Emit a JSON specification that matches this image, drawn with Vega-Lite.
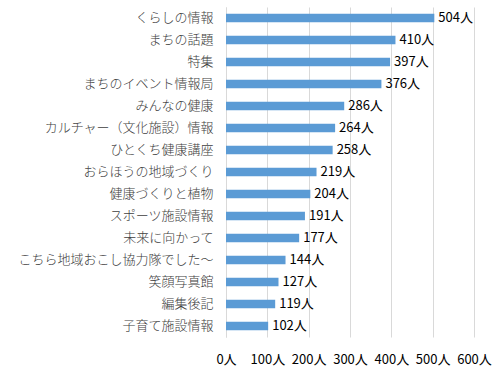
{
  "$schema": "https://vega.github.io/schema/vega-lite/v6.json",
  "autosize": {"type": "none"},
  "width": 248,
  "height": 330,
  "padding": {"left": 226, "top": 7, "right": 26, "bottom": 38},
  "background": "white",
  "config": {"view": {"stroke": null}, "font": "Noto Sans CJK JP"},
  "data": {"values": [
    {"name": "くらしの情報", "v": 504},
    {"name": "まちの話題", "v": 410},
    {"name": "特集", "v": 397},
    {"name": "まちのイベント情報局", "v": 376},
    {"name": "みんなの健康", "v": 286},
    {"name": "カルチャー（文化施設）情報", "v": 264},
    {"name": "ひとくち健康講座", "v": 258},
    {"name": "おらほうの地域づくり", "v": 219},
    {"name": "健康づくりと植物", "v": 204},
    {"name": "スポーツ施設情報", "v": 191},
    {"name": "未来に向かって", "v": 177},
    {"name": "こちら地域おこし協力隊でした〜", "v": 144},
    {"name": "笑顔写真館", "v": 127},
    {"name": "編集後記", "v": 119},
    {"name": "子育て施設情報", "v": 102}
  ]},
  "encoding": {
    "y": {"field": "name", "type": "nominal", "sort": null,
      "scale": {"paddingInner": 0.62, "paddingOuter": 0.31},
      "axis": {"title": null, "ticks": false, "domain": true, "domainColor": "#d9d9d9", "labelFontSize": 13, "labelFontWeight": 300, "labelColor": "#404040", "labelPadding": 13, "labelLimit": 240}},
    "x": {"field": "v", "type": "quantitative",
      "scale": {"domain": [0, 600], "nice": false},
      "axis": {"title": null, "values": [0,100,200,300,400,500,600], "labelExpr": "datum.value + '人'", "ticks": false, "domain": false, "grid": true, "gridColor": "#d9d9d9", "labelFontSize": 13, "labelColor": "#000000", "labelPadding": 16, "labelFlush": false}}
  },
  "layer": [
    {"mark": {"type": "bar", "color": "#5b9bd5"}},
    {"mark": {"type": "text", "align": "left", "dx": 4, "fontSize": 13, "color": "#000000", "text": {"expr": "datum.v + '人'"}}}
  ]
}
